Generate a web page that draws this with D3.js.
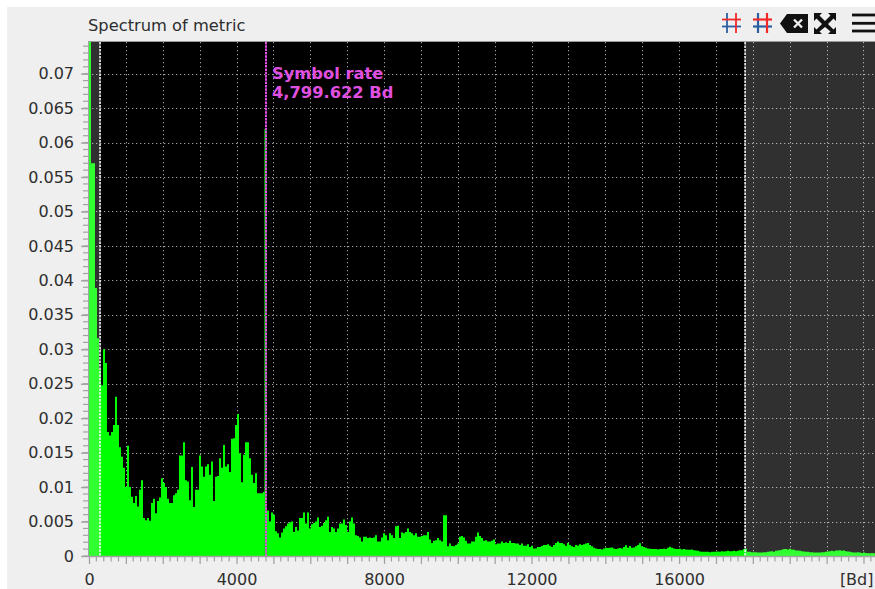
<!DOCTYPE html>
<html>
<head>
<meta charset="utf-8">
<script src="https://cdn.jsdelivr.net/npm/d3@7"></script>
<style>
html,body{margin:0;padding:0;background:#fff;}
svg{display:block;}
text{font-family:"DejaVu Sans",sans-serif;}
</style>
</head>
<body>
<svg id="c" width="875" height="589"></svg>
<script>
const chartTitle = "Spectrum of metric";
const xUnit = "[Bd]";
const binWidthBd = 54.23;
const symbolRate = 4799.622;
const symbolPeak = 0.062;
const symbolLabel = ["Symbol rate", "4,799.622 Bd"];
const selectionLow = 300;
const selectionHigh = 17790;
const xTickLabels = [0, 4000, 8000, 12000, 16000];
const yTickLabels = [0,0.005,0.01,0.015,0.02,0.025,0.03,0.035,0.04,0.045,0.05,0.055,0.06,0.065,0.07];
// spectrum magnitudes, in thousandths, one per bin
const spectrumLow = [85,57,57,38.9,31.6,27,24.8,30,28,18,17.5,18,19,23.1,19,15.8,14.4,12.8,10,16,10,8.6,7.7,8.7,7.2,9.6,11,5.5,5.2,5.5,5.1,7.7,8.3,6.2,8,8.5,11.3,10.6,10,8.3,7.7,7.7,8.8,9.1,9.6,14.6];
const spectrumMid = [14.6,16.5,11,10.8,8.1,12.9,7.1,9.6,9.6,14.6,13,11.5,13,13.3,11.8,13.7,8,11.5,11.6,14.2,12.8,16.1,13,13.3,12.2,17,17.1,19,20.6,14.9,10.7,14.7,16.5,16.5,14.2,11.8,10.6,12,9.1,9.1,9.1,9.3];
const spectrumHigh = [6.6,6.6,5,6.3,6,3.6,3.3,2.7,3.4,4,4.3,4.7,4.9,5,3.5,4.2,3.7,5.5,5.5,6.3,4.7,6.3,4,4.6,4.8,5,5.6,4.2,4.4,4.8,5.2,5.7,3.5,4.2,4,3.5,4,4.7,4.7,5.3,4.5,3.5,5,5.6,4.7,3,2.9,2.7,2.1,2.8,2.8,2.6,2.7,2.6,2.7,3,2.1,2.1,2.7,3.3,3,2.3,3.3,3,2.6,4.3,4.4,2.6,3.4,3.3,3.5,4,3.5,3.3,3,3.3,2.8,2.8,2.9,3,3,3.5,2.4,1.9,2.2,2.3,2.6,2.3,2.1,5.9,5.9,1.4,1.8,1.45,1.4,1.6,1.8,2.8,2.9,2.7,2.2,1.8,1.8,2.1,2.1,2.8,3.4,2.9,2.6,2.2,2.3,2.1,2.1,2.2,2.4,1.7,1.8,1.8,2.1,1.9,2,1.9,2.2,1.9,1.9,1.8,1.8,1.6,1.8,1.5,1.5,1.7,1.3,1.5,1.1,1.1,1.3,1.3,1.45,1.6,1.6,1.7,1.5,1.3,1.6,1.9,2.1,1.9];
const spectrumTail = [1.9,1.7,1.5,1.9,1.6,1.4,1.3,1.6,1.5,1.7,1.6,1.7,1.8,1.9,1.6,1.4,1.2,1.1,1,1,0.95,1.1,1.2,1.15,1.2,1.25,1.1,1,1.1,1.15,1.1,1.3,1.55,1.2,1.45,1.2,1.25,1.4,1.6,1.85,1.4,1.3,1.2,1.1,1.05,1,1,1,0.95,1,1,1.05,1,1.2,1.35,1.2,1.1,1,1,1.05,0.95,1,0.95,0.9,0.9,0.95,0.85,0.8,0.75,0.65,0.6,0.6,0.6,0.6,0.55,0.6,0.6,0.6,0.65,0.6,0.7,0.65,0.7,0.75,0.7,0.7,0.75,0.7,0.75,0.85,0.85,1,1.05,0.6,0.6,0.55,0.55,0.55,0.5,0.5,0.5,0.55,0.55,0.6,0.65,0.7,0.6,0.75,0.8,0.85,0.9,1,1,0.95,1.05,0.95,0.9,0.8,0.8,0.75,0.7,0.65,0.6,0.6,0.55,0.55,0.5,0.5,0.5,0.5,0.55,0.55,0.6,0.65,0.7,0.75,0.7,0.8,0.8,0.85,0.75,0.8,0.7,0.65,0.6,0.55,0.5,0.5,0.55,0.5,0.45,0.5,0.45,0.4,0.4,0.45,0.4,0.4,0.4,0.4,0.4];

const spectrum = [...spectrumLow, ...spectrumMid, ...spectrumHigh, ...spectrumTail].map(v => v / 1000);
const bins = spectrum.map((v, i) => ({f: i * binWidthBd, v}));
bins.push({f: bins.length * binWidthBd, v: spectrum[spectrum.length - 1]});

const L = 89, R = 875, T = 42, B = 556;
const x = d3.scaleLinear().domain([0, (R - L) / 0.03688]).range([L, R]);
const y = d3.scaleLinear().domain([0, (B - T) / 6890]).range([B, T]);

const svg = d3.select("#c");
svg.append("rect").attr("x", 7).attr("y", 7).attr("width", 868).attr("height", 582).attr("fill", "#efefef");
svg.append("rect").attr("x", 88).attr("y", T).attr("width", R - 88).attr("height", B - T).attr("fill", "#000");
svg.append("line").attr("x1", 88).attr("x2", R).attr("y1", 41.5).attr("y2", 41.5).attr("stroke", "#9a9a9a");

svg.append("defs").append("clipPath").attr("id", "plot").append("rect")
  .attr("x", 88).attr("y", T).attr("width", R - 88).attr("height", B - T);
const plot = svg.append("g").attr("clip-path", "url(#plot)");

// grid
const gridStyle = s => s.attr("stroke", "#9c9c9c").attr("stroke-width", 1).attr("stroke-dasharray", "1.3 2.7").attr("fill", "none");
plot.append("g").selectAll("line").data(d3.range(1000, 22000, 1000)).join("line")
  .attr("x1", d => Math.round(x(d)) + 0.5).attr("x2", d => Math.round(x(d)) + 0.5).attr("y1", T).attr("y2", B).call(gridStyle);
plot.append("g").selectAll("line").data(yTickLabels.slice(1)).join("line")
  .attr("x1", 88).attr("x2", R).attr("y1", d => Math.round(y(d)) + 0.5).attr("y2", d => Math.round(y(d)) + 0.5).call(gridStyle);

// spectrum
const area = d3.area().x(d => x(d.f)).y0(B).y1(d => y(d.v)).curve(d3.curveStepAfter);
plot.append("path").datum(bins).attr("d", area).attr("fill", "#00ff00");
plot.append("rect").attr("x", x(symbolRate) - 1.6).attr("width", 2).attr("y", y(symbolPeak)).attr("height", B - y(symbolPeak)).attr("fill", "#00e000");

// out-of-band shading
plot.append("rect").attr("x", L).attr("y", T).attr("width", x(selectionLow) - L).attr("height", B - T).attr("fill", "#fff").attr("opacity", 0.19);
plot.append("rect").attr("x", x(selectionHigh)).attr("y", T).attr("width", R - x(selectionHigh)).attr("height", B - T).attr("fill", "#fff").attr("opacity", 0.19);

// cursors
plot.selectAll("line.sel").data([selectionLow, selectionHigh]).join("line").attr("class", "sel")
  .attr("x1", d => x(d)).attr("x2", d => x(d)).attr("y1", T).attr("y2", B)
  .attr("stroke", "#f4f4f4").attr("stroke-width", 1.6).attr("stroke-dasharray", "2.5 1");
plot.append("line").attr("x1", x(symbolRate)).attr("x2", x(symbolRate)).attr("y1", T).attr("y2", B)
  .attr("stroke", "#e050e0").attr("stroke-width", 2).attr("stroke-dasharray", "2.5 0.8");

svg.selectAll("text.sym").data(symbolLabel).join("text").attr("class", "sym")
  .attr("x", 272).attr("y", (d, i) => 79 + i * 19).text(d => d)
  .attr("fill", "#e050e0").attr("font-size", 16.3).attr("font-weight", "bold");

// axes
const axisColor = "#a3a3a3", textColor = "#2e2e2e";
const yAxis = d3.axisLeft(y).tickValues(yTickLabels).tickSize(7).tickPadding(7)
  .tickFormat(d => d === 0 ? "0" : String(d));
const gy = svg.append("g").attr("transform", "translate(88,0)").call(yAxis);
gy.select(".domain").attr("stroke", axisColor).attr("d", `M0.5,${T}V${B + 1}`);
gy.selectAll(".tick line").attr("stroke", axisColor).attr("stroke-width", 1.4);
gy.selectAll(".tick text").attr("fill", textColor).attr("font-size", 16).attr("font-family", '"DejaVu Sans"');

svg.append("g").selectAll("line").data(d3.range(0, 0.0746, 0.001)).join("line")
  .attr("x1", 83).attr("x2", 88).attr("y1", d => y(d)).attr("y2", d => y(d))
  .attr("stroke", axisColor).attr("stroke-width", 1.2);

const xAxis = d3.axisBottom(x).tickValues(d3.range(0, 21001, 1000)).tickSize(8).tickPadding(10)
  .tickFormat(d => xTickLabels.includes(d) ? String(d) : "");
const gx = svg.append("g").attr("transform", `translate(0,${B})`).call(xAxis);
gx.select(".domain").attr("stroke", axisColor).attr("stroke-width", 1.4).attr("d", `M88,0.5H${R}`);
gx.selectAll(".tick line").attr("stroke", axisColor).attr("stroke-width", 1.3);
gx.selectAll(".tick text").attr("fill", textColor).attr("font-size", 16).attr("font-family", '"DejaVu Sans"');

svg.append("g").selectAll("line").data(d3.range(0, 21312, 200).filter(d => d % 1000 !== 0)).join("line")
  .attr("x1", d => x(d)).attr("x2", d => x(d)).attr("y1", B).attr("y2", B + 5.5)
  .attr("stroke", axisColor).attr("stroke-width", 1.2);

svg.append("text").attr("x", 873.5).attr("y", 585).attr("text-anchor", "end").text(xUnit)
  .attr("fill", textColor).attr("font-size", 16);
svg.append("text").attr("x", 88).attr("y", 30.5).text(chartTitle)
  .attr("fill", textColor).attr("font-size", 16.3);

// toolbar icons
function gridIcon(ox, oy, w) {
  const g = svg.append("g").attr("transform", `translate(${ox},${oy})`);
  const seg = (x1, y1, x2, y2, c) => g.append("line").attr("x1", x1).attr("y1", y1).attr("x2", x2).attr("y2", y2).attr("stroke", c).attr("stroke-width", w);
  seg(5, 0, 5, 20, "#2a5fa0"); seg(0, 13.5, 19, 13.5, "#2a5fa0");
  seg(0, 6.5, 19, 6.5, "#f02828"); seg(14, 0, 14, 20, "#f02828");
}
gridIcon(722, 13, 1.8);
gridIcon(753, 13, 2.2);
const black = "#111";
svg.append("path").attr("d", "M780,23.5L787,14H808V33H787Z").attr("fill", black);
svg.append("path").attr("d", "M794,19.5L802,27.5M802,19.5L794,27.5").attr("stroke", "#efefef").attr("stroke-width", 2.4);
svg.append("path").attr("d", "M814,13H822L819.5,15.5L825,21L830.5,15.5L828,13H836V21L833.5,18.5L828,24L833.5,29.5L836,27V34H828L830.5,31.5L825,27L819.5,31.5L822,34H814V27L816.5,29.5L822,24L816.5,18.5L814,21Z").attr("fill", black);
svg.selectAll("rect.bar").data([15, 23.3, 31]).join("rect").attr("class", "bar")
  .attr("x", 852).attr("width", 23).attr("y", d => d - 1.4).attr("height", 2.8).attr("fill", black);
</script>
</body>
</html>
